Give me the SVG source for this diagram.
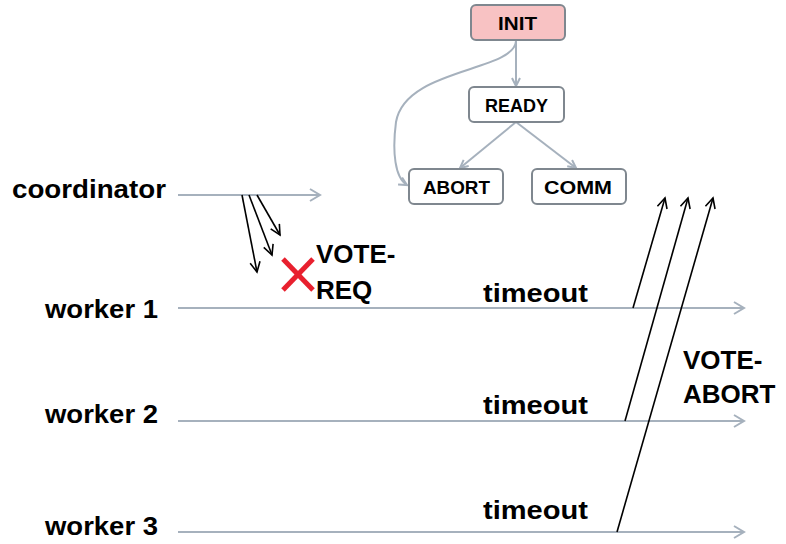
<svg xmlns="http://www.w3.org/2000/svg" width="786" height="544" viewBox="0 0 786 544">
<style>
.box{fill:#fff;stroke:#7f878f;stroke-width:2}
.init{fill:#f8c2c3}
.nt{font-family:"Liberation Sans",Arial,sans-serif;font-weight:bold;font-size:19px;fill:#000}
.lbl{font-family:"Liberation Sans",Arial,sans-serif;font-weight:bold;font-size:25px;fill:#000}
.g{fill:none;stroke:#a6b1bd;stroke-width:2}
.k{fill:none;stroke:#000;stroke-width:1.6}
.x{stroke:#e8202e;stroke-width:5;stroke-linecap:butt}
</style>
<defs>
<marker id="ga" markerUnits="userSpaceOnUse" markerWidth="14" markerHeight="16" refX="12" refY="7" orient="auto">
<path d="M2,1 L12,7 L2,13" fill="none" stroke="#a6b1bd" stroke-width="2"/>
</marker>
<marker id="gs" markerUnits="userSpaceOnUse" markerWidth="12" markerHeight="12" refX="10" refY="5" orient="auto">
<path d="M2,1 L10,5 L2,9" fill="none" stroke="#a6b1bd" stroke-width="2"/>
</marker>
<marker id="ka" markerUnits="userSpaceOnUse" markerWidth="14" markerHeight="14" refX="11" refY="6" orient="auto">
<path d="M1,1 L11,6 L1,11" fill="none" stroke="#000" stroke-width="1.6"/>
</marker>
</defs>
<g id="connectors">
<line class="g" x1="516" y1="41" x2="516" y2="86" marker-end="url(#gs)"/>
<path class="g" d="M516,41 C514,72 405,68 396,122 C392,152 395,178 407,185" marker-end="url(#gs)"/>
<line class="g" x1="516" y1="122" x2="460" y2="168" marker-end="url(#gs)"/>
<line class="g" x1="516" y1="122" x2="576" y2="168" marker-end="url(#gs)"/>
<line class="g" x1="178" y1="195" x2="320" y2="195" marker-end="url(#ga)"/>
<line class="g" x1="178" y1="308" x2="744" y2="308" marker-end="url(#ga)"/>
<line class="g" x1="178" y1="421" x2="744" y2="421" marker-end="url(#ga)"/>
<line class="g" x1="178" y1="532" x2="744" y2="532" marker-end="url(#ga)"/>
<line class="k" x1="242" y1="195" x2="257" y2="272" marker-end="url(#ka)"/>
<line class="k" x1="249" y1="195" x2="272" y2="255" marker-end="url(#ka)"/>
<line class="k" x1="257" y1="195" x2="280" y2="235" marker-end="url(#ka)"/>
<line class="k" x1="633" y1="308" x2="665" y2="198" marker-end="url(#ka)"/>
<line class="k" x1="625" y1="421" x2="688" y2="198" marker-end="url(#ka)"/>
<line class="k" x1="617" y1="532" x2="713" y2="198" marker-end="url(#ka)"/>
</g>
<g id="INIT"><rect class="box init" x="471" y="5" width="94" height="35" rx="5"/><text class="nt" x="498" y="30" textLength="39" lengthAdjust="spacingAndGlyphs">INIT</text></g>
<g id="READY"><rect class="box" x="469" y="87" width="95" height="35" rx="5"/><text class="nt" x="485" y="112" textLength="63" lengthAdjust="spacingAndGlyphs">READY</text></g>
<g id="ABORT"><rect class="box" x="409" y="169" width="94" height="35" rx="5"/><text class="nt" x="423" y="194" textLength="67" lengthAdjust="spacingAndGlyphs">ABORT</text></g>
<g id="COMM"><rect class="box" x="532" y="169" width="94" height="35" rx="5"/><text class="nt" x="544" y="194" textLength="68" lengthAdjust="spacingAndGlyphs">COMM</text></g>
<g id="labels">
<text class="lbl" x="12" y="198" textLength="154" lengthAdjust="spacingAndGlyphs">coordinator</text>
<text class="lbl" x="45" y="318" textLength="113" lengthAdjust="spacingAndGlyphs">worker 1</text>
<text class="lbl" x="45" y="423" textLength="113" lengthAdjust="spacingAndGlyphs">worker 2</text>
<text class="lbl" x="45" y="535" textLength="113" lengthAdjust="spacingAndGlyphs">worker 3</text>
<text class="lbl" x="483" y="302" textLength="105" lengthAdjust="spacingAndGlyphs">timeout</text>
<text class="lbl" x="483" y="414" textLength="105" lengthAdjust="spacingAndGlyphs">timeout</text>
<text class="lbl" x="483" y="519" textLength="105" lengthAdjust="spacingAndGlyphs">timeout</text>
<text class="lbl" x="316" y="263" style="font-size:26px">VOTE-</text>
<text class="lbl" x="316" y="299" style="font-size:26px">REQ</text>
<text class="lbl" x="683" y="369" style="font-size:26px">VOTE-</text>
<text class="lbl" x="683" y="403" style="font-size:26px">ABORT</text>
</g>
<g id="cross">
<line class="x" x1="283" y1="259" x2="313" y2="290"/>
<line class="x" x1="313" y1="259" x2="283" y2="290"/>
</g>
</svg>
